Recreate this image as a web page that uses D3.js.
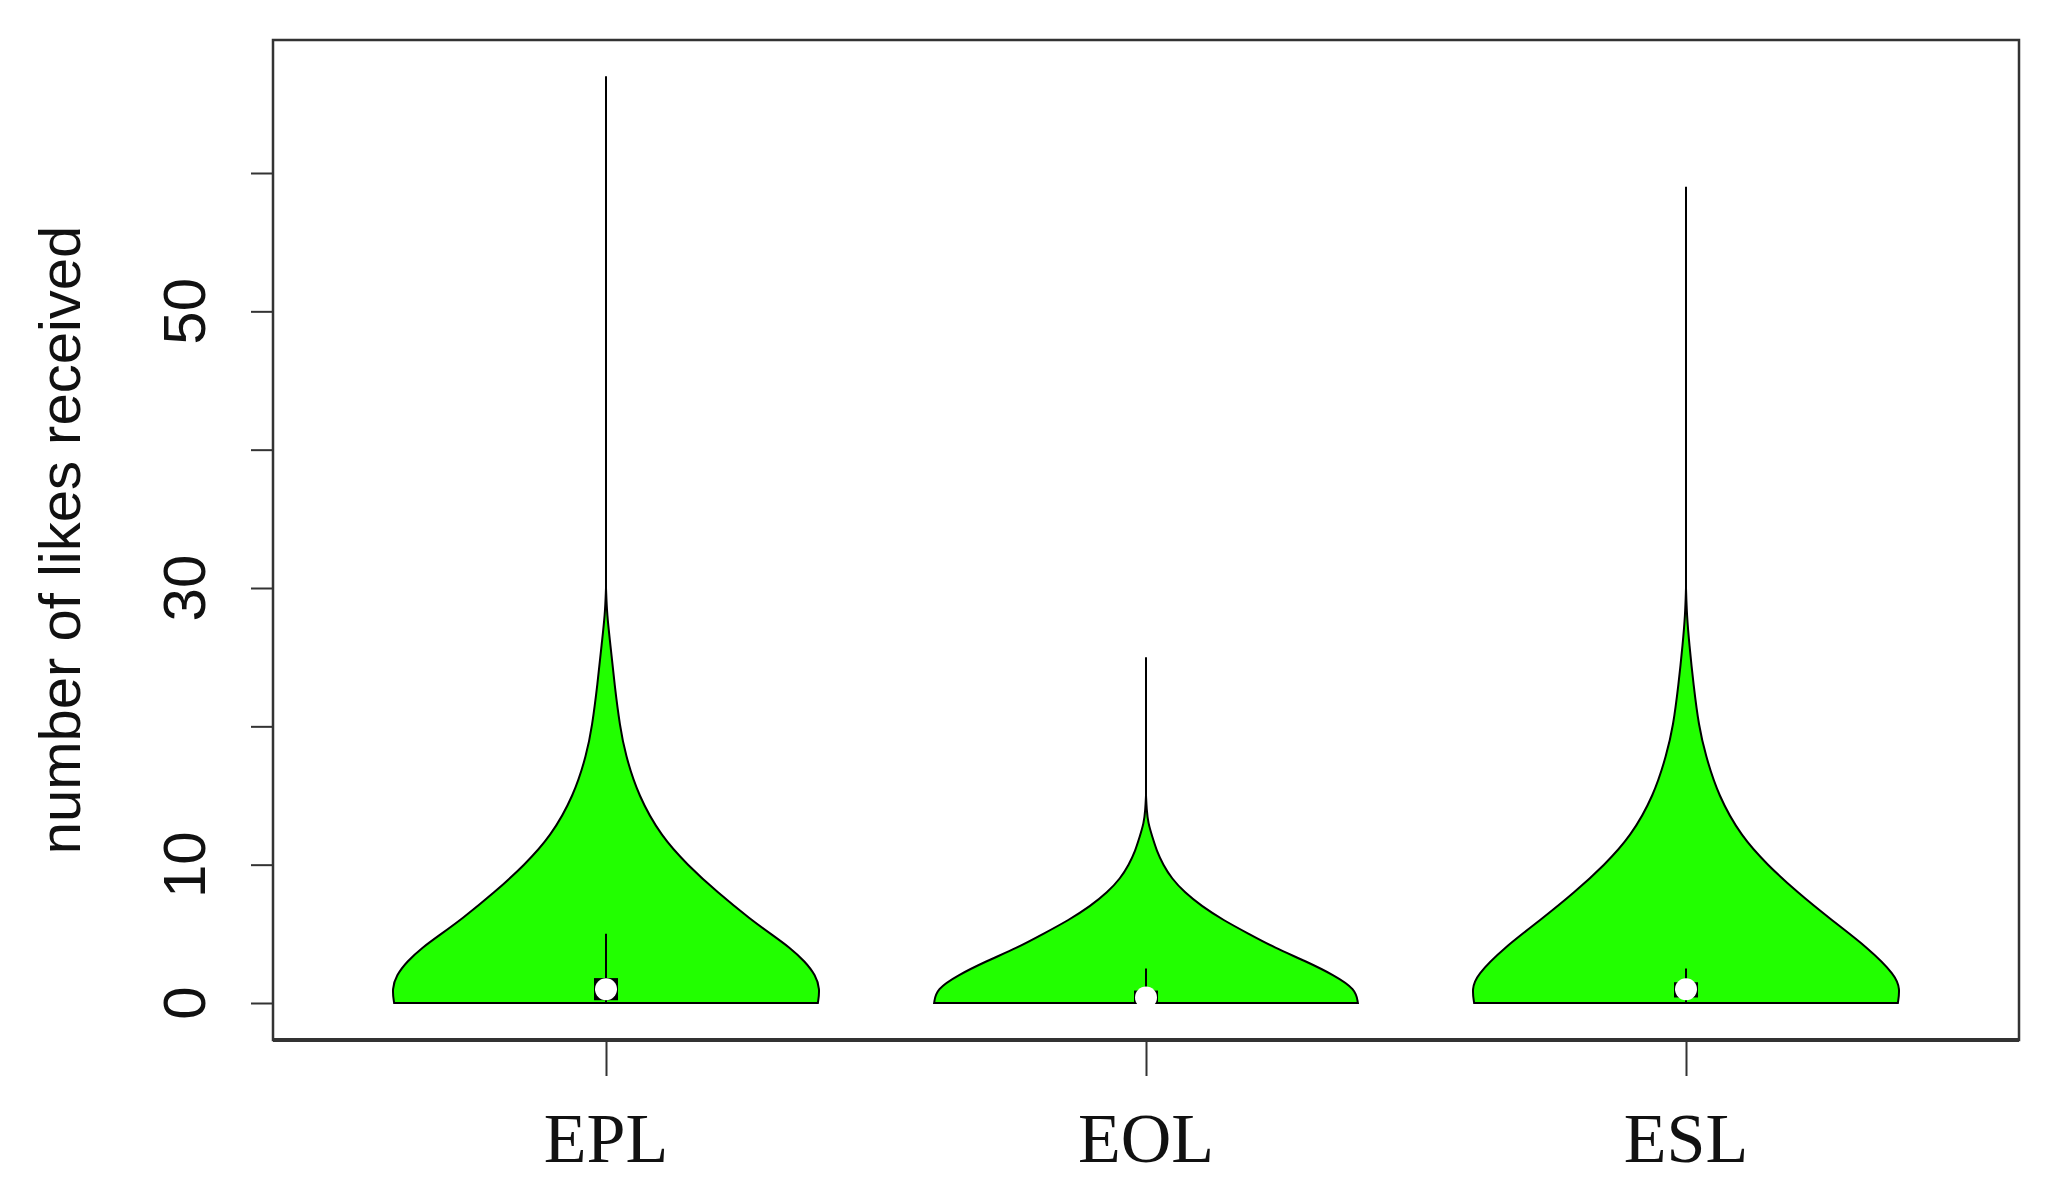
<!DOCTYPE html>
<html><head><meta charset="utf-8">
<script src="https://cdn.jsdelivr.net/npm/d3@7"></script>
<style>body{margin:0;background:#fff}</style></head>
<body><svg id="c" width="2059" height="1192"></svg>
<script>
var categories = ['EPL', 'EOL', 'ESL'];
// density outline: [value, relative half-width]
var densEPL = [[0,0.99],[1,1],[2,0.98],[3,0.93],[4,0.86],[5,0.77],[6,0.68],[8,0.52],[10,0.38],[12,0.26],[15,0.15],[18,0.09],[20,0.065],[23,0.04],[26,0.02],[28,0.005],[30,0]];
var densEOL = [[0,0.99],[1,0.98],[2,0.88],[3,0.75],[4,0.6],[5,0.48],[6,0.36],[7,0.26],[8,0.18],[9,0.12],[10,0.08],[11,0.05],[12,0.03],[13,0.01],[14,0.003],[15,0]];
var densESL = [[0,0.99],[1,1],[2,0.98],[4,0.85],[6,0.68],[8,0.52],[10,0.38],[12,0.26],[15,0.15],[18,0.09],[20,0.06],[23,0.035],[26,0.015],[28,0.004],[30,0]];
var maxVals = [67, 25, 59];
var whiskerHi = [5, 2.5, 2.5];
var boxLo = [0.2, 0, 0.4];
var boxHi = [1.8, 0.9, 1.5];
var medians = [1, 0.4, 1];
var yTicks = [0, 10, 20, 30, 40, 50, 60];
var yLabels = [0, 10, 30, 50];
var dens = [densEPL, densEOL, densESL];

var svg = d3.select('#c');
var L = 273, R = 2019, T = 40, B = 1040;
var x = d3.scalePoint().domain(categories).range([606, 1686]);
var y = d3.scaleLinear().domain([0, 60]).range([1003, 173]);
var halfW = 214;

categories.forEach(function (c, i) {
  var cx = x(c), d = dens[i];
  svg.append('line').attr('x1', cx).attr('x2', cx).attr('y1', y(0)).attr('y2', y(maxVals[i]))
    .attr('stroke', '#000').attr('stroke-width', 2);
  var area = d3.area().curve(d3.curveBasis)
    .y(function (p) { return y(p[0]); })
    .x0(function (p) { return cx - p[1] * halfW; })
    .x1(function (p) { return cx + p[1] * halfW; });
  svg.append('path').attr('d', area(d)).attr('fill', '#22ff00').attr('stroke', '#000').attr('stroke-width', 2);
  svg.append('line').attr('x1', cx).attr('x2', cx).attr('y1', y(0)).attr('y2', y(whiskerHi[i]))
    .attr('stroke', '#000').attr('stroke-width', 2);
  svg.append('rect').attr('x', cx - 12).attr('width', 24).attr('y', y(boxHi[i]))
    .attr('height', y(boxLo[i]) - y(boxHi[i])).attr('fill', '#000');
  svg.append('circle').attr('cx', cx).attr('cy', y(medians[i])).attr('r', 11).attr('fill', '#fff');
});

svg.append('rect').attr('x', L).attr('y', T).attr('width', R - L).attr('height', B - T)
  .attr('fill', 'none').attr('stroke', '#333').attr('stroke-width', 2.5);
svg.append('line').attr('x1', L).attr('x2', R).attr('y1', B).attr('y2', B).attr('stroke', '#333').attr('stroke-width', 4);

var ya = svg.append('g').attr('transform', 'translate(' + L + ',0)')
  .call(d3.axisLeft(y).tickValues(yTicks).tickSize(22).tickFormat(''));
ya.select('.domain').remove();
ya.selectAll('line').attr('stroke', '#333').attr('stroke-width', 2);
yLabels.forEach(function (v) {
  svg.append('text').attr('transform', 'translate(205,' + y(v) + ') rotate(-90)')
    .attr('text-anchor', 'middle').attr('font-family', 'Liberation Sans')
    .attr('font-size', 60).attr('fill', '#111').text(v);
});

var xa = svg.append('g').attr('transform', 'translate(0,' + B + ')')
  .call(d3.axisBottom(x).tickSize(36).tickFormat(''));
xa.select('.domain').remove();
xa.selectAll('line').attr('stroke', '#333').attr('stroke-width', 2);
categories.forEach(function (c) {
  svg.append('text').attr('x', x(c)).attr('y', 1162).attr('text-anchor', 'middle')
    .attr('font-family', 'Liberation Sans Narrow').attr('font-size', 70).attr('fill', '#111').text(c);
});

svg.append('text').attr('transform', 'translate(80,540) rotate(-90)').attr('text-anchor', 'middle')
  .attr('font-family', 'Liberation Sans').attr('font-size', 58).attr('fill', '#111')
  .text('number of likes received');
</script></body></html>
